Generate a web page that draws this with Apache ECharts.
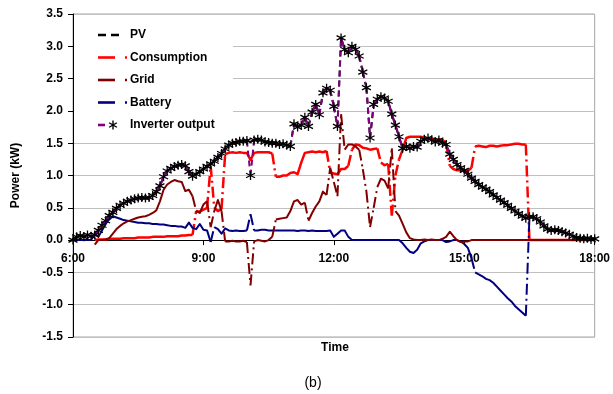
<!DOCTYPE html>
<html>
<head>
<meta charset="utf-8">
<title>Power flows over the day</title>
<script src="https://cdn.jsdelivr.net/npm/echarts@6/dist/echarts.min.js"></script>
<style>
  html, body { margin: 0; padding: 0; background: #fff; }
  #chart { width: 613px; height: 394px; }
</style>
</head>
<body>
<div id="chart"></div>
<script>
// Samples every 5 minutes from 6:00 to 18:00 (kW)
const startMinute = 360;
const stepMinutes = 5;

const pv = [
  0.00,0.05,0.07,0.05,0.08,0.06,0.08,0.15,0.23,0.30,0.38,0.43,
  0.49,0.54,0.57,0.60,0.62,0.64,0.65,0.66,0.65,0.66,0.69,0.75,
  0.84,0.98,1.07,1.11,1.14,1.16,1.17,1.15,1.06,0.99,1.02,1.06,
  1.10,1.14,1.18,1.22,1.28,1.34,1.41,1.47,1.50,1.51,1.53,1.53,
  1.54,1.52,1.55,1.56,1.55,1.52,1.51,1.50,1.50,1.48,1.49,1.47,
  1.45,1.80,1.75,1.78,1.90,1.76,1.98,2.10,1.94,2.28,2.35,2.32,
  2.07,1.76,3.13,2.95,2.90,3.00,2.95,2.85,2.60,2.36,1.58,2.10,
  2.18,2.22,2.20,2.15,1.95,1.78,1.60,1.42,1.45,1.42,1.45,1.44,
  1.53,1.56,1.58,1.55,1.52,1.55,1.50,1.48,1.33,1.25,1.17,1.12,
  1.08,1.02,0.96,0.91,0.86,0.82,0.79,0.75,0.70,0.66,0.62,0.58,
  0.54,0.49,0.45,0.41,0.37,0.34,0.36,0.36,0.33,0.28,0.22,0.17,
  0.15,0.16,0.15,0.13,0.11,0.09,0.06,0.04,0.03,0.02,0.03,0.01,
  0.02
];

const consumption = [
  null,null,null,null,null,null,0.00,0.01,0.01,0.01,0.02,0.02,
  0.02,0.02,0.03,0.03,0.03,0.03,0.04,0.04,0.04,0.04,0.05,0.05,
  0.05,0.05,0.06,0.06,0.06,0.06,0.07,0.07,0.08,0.08,0.45,0.44,
  0.47,0.50,1.15,0.50,0.45,0.48,1.33,1.35,1.36,1.35,1.36,1.35,
  1.35,1.24,1.35,1.36,1.36,1.36,1.36,1.34,0.98,0.98,1.00,1.00,
  1.04,1.05,1.02,1.20,1.35,1.36,1.37,1.36,1.37,1.36,1.38,1.05,
  1.03,1.02,1.10,1.10,1.15,1.40,1.48,1.47,1.43,1.42,1.40,1.41,
  1.42,1.20,1.16,1.18,0.38,1.00,1.25,1.40,1.58,1.60,1.60,1.60,
  1.60,1.58,1.57,1.58,1.55,1.56,1.55,1.50,1.15,1.10,1.08,1.08,
  1.07,1.07,1.12,1.45,1.46,1.45,1.44,1.46,1.46,1.45,1.46,1.47,
  1.47,1.48,1.49,1.49,1.48,1.48,0.00,0.00,0.00,0.00,0.00,0.00,
  0.00,0.00,0.00,0.00,0.00,0.00,0.00,0.00,0.00,0.00,0.00,0.00,
  0.00
];

const grid = [
  null,null,null,null,null,null,-0.07,0.00,0.00,0.01,0.03,0.10,
  0.17,0.22,0.26,0.29,0.31,0.33,0.35,0.36,0.37,0.39,0.42,0.46,
  0.60,0.78,0.86,0.90,0.93,0.91,0.90,0.76,0.78,0.68,0.45,0.42,
  0.55,0.60,0.20,0.45,0.62,0.45,-0.02,-0.02,-0.01,-0.02,-0.02,-0.01,
  -0.03,-0.70,-0.02,0.00,-0.01,-0.02,0.00,0.05,0.32,0.33,0.34,0.35,
  0.45,0.60,0.62,0.55,0.58,0.30,0.42,0.52,0.60,0.75,0.70,1.12,
  0.90,0.68,1.95,1.40,1.48,1.48,1.45,1.40,1.10,0.75,0.20,0.50,
  0.82,0.95,0.92,0.80,1.42,0.45,0.38,0.25,0.12,0.03,0.01,0.00,
  0.00,0.01,0.00,0.01,0.00,0.00,0.02,0.05,0.13,0.06,0.00,-0.03,
  -0.02,-0.02,0.00,0.00,0.00,0.00,0.00,0.00,0.00,0.00,0.00,0.00,
  0.00,0.00,0.00,0.00,0.00,0.00,0.00,0.00,0.00,0.00,0.00,0.00,
  0.00,0.00,0.00,0.00,0.00,0.00,0.00,0.00,0.00,0.00,0.00,0.00,
  0.00
];

const battery = [
  0.00,0.00,0.00,0.00,0.00,0.00,0.10,0.05,0.15,0.25,0.32,0.37,
  0.35,0.33,0.31,0.30,0.29,0.28,0.27,0.27,0.26,0.26,0.25,0.25,
  0.24,0.24,0.23,0.22,0.22,0.21,0.21,0.19,0.27,0.19,0.17,0.25,
  0.16,0.15,-0.03,0.20,0.17,0.10,0.18,0.15,0.14,0.15,0.14,0.14,
  0.15,0.40,0.15,0.15,0.16,0.16,0.15,0.15,0.15,0.15,0.15,0.15,
  0.15,0.15,0.14,0.15,0.15,0.14,0.15,0.14,0.14,0.14,0.14,0.15,
  0.05,0.10,0.15,0.15,0.05,0.00,0.00,0.00,0.00,0.00,0.00,0.00,
  0.00,0.00,0.00,0.00,0.00,0.00,0.00,-0.05,-0.12,-0.18,-0.20,-0.15,
  -0.05,-0.02,0.00,0.00,0.00,0.00,0.00,-0.03,-0.02,0.00,0.00,-0.02,
  -0.06,-0.12,-0.28,-0.50,-0.53,-0.56,-0.60,-0.62,-0.66,-0.72,-0.78,-0.84,
  -0.90,-0.95,-1.02,-1.07,-1.12,-1.17,0.36,0.36,0.33,0.28,0.22,0.17,
  0.15,0.16,0.15,0.13,0.11,0.09,0.06,0.04,0.03,0.02,0.03,0.01,
  0.02
];

const inverterOutput = [
  0.00,0.05,0.07,0.05,0.08,0.06,0.08,0.15,0.23,0.30,0.38,0.43,
  0.49,0.54,0.57,0.60,0.62,0.64,0.65,0.66,0.65,0.66,0.69,0.75,
  0.84,0.98,1.07,1.11,1.14,1.16,1.17,1.15,1.06,0.99,1.02,1.06,
  1.10,1.14,1.18,1.22,1.28,1.34,1.41,1.47,1.50,1.51,1.53,1.53,
  1.54,1.00,1.55,1.56,1.55,1.52,1.51,1.50,1.50,1.48,1.49,1.47,
  1.45,1.80,1.75,1.78,1.90,1.76,1.98,2.10,1.94,2.28,2.35,2.32,
  2.07,1.76,3.13,2.95,2.90,3.00,2.95,2.85,2.60,2.36,1.58,2.10,
  2.18,2.22,2.20,2.15,1.95,1.78,1.60,1.42,1.45,1.42,1.45,1.44,
  1.53,1.56,1.58,1.55,1.52,1.55,1.50,1.48,1.33,1.25,1.17,1.12,
  1.08,1.02,0.96,0.91,0.86,0.82,0.79,0.75,0.70,0.66,0.62,0.58,
  0.54,0.49,0.45,0.41,0.37,0.34,0.36,0.36,0.33,0.28,0.22,0.17,
  0.15,0.16,0.15,0.13,0.11,0.09,0.06,0.04,0.03,0.02,0.03,0.01,
  0.02
];

const timeLabels = ['6:00', '9:00', '12:00', '15:00', '18:00'];
const legendNames = ['PV', 'Consumption', 'Grid', 'Battery', 'Inverter output'];

const FONT = '"Liberation Sans", Arial, Helvetica, sans-serif';
const COLORS = {
  'PV': '#000000',
  'Consumption': '#ff0000',
  'Grid': '#800000',
  'Battery': '#000080',
  'Inverter output': '#800080'
};
const times = pv.map((_, i) => startMinute + i * stepMinutes);

// Short steps are drawn solid; steps with a large change in value get the
// series' dash pattern, the way dense spreadsheet charts render them.
const JUMP = 0.2;
function splitSteps(values) {
  const solid = [];
  const dashed = [];
  values.forEach((v, i) => {
    solid.push([times[i], v]);
    const next = values[i + 1];
    if (i < values.length - 1 && v != null && next != null && Math.abs(next - v) > JUMP) {
      solid.push([times[i] + stepMinutes / 2, null]);
      dashed.push([times[i], v], [times[i + 1], next], [times[i + 1] + 0.01, null]);
    }
  });
  return { solid, dashed };
}

const asterisk = 'path://M5 0L5 10M0.7 2.5L9.3 7.5M0.7 7.5L9.3 2.5';

function lineSeries(name, values, opts) {
  const parts = splitSteps(values);
  const common = {
    name,
    type: 'line',
    silent: true,
    emphasis: { disabled: true },
    connectNulls: false,
    symbol: opts.symbol || 'none',
    symbolSize: opts.symbolSize || 0,
    itemStyle: opts.itemStyle || { color: COLORS[name] },
    z: opts.z
  };
  return [
    Object.assign({}, common, {
      data: parts.dashed,
      showSymbol: false,
      lineStyle: { color: COLORS[name], width: opts.width, type: opts.dash, cap: 'butt' }
    }),
    Object.assign({}, common, {
      data: parts.solid,
      showSymbol: !!opts.symbol,
      showAllSymbol: true,
      lineStyle: { color: COLORS[name], width: opts.width, type: 'solid', cap: 'butt', join: 'round' }
    })
  ];
}

const series = [].concat(
  lineSeries('PV', pv, { width: 2, dash: [6, 4], z: 2 }),
  lineSeries('Consumption', consumption, { width: 2.5, dash: [11, 4, 2, 4], z: 3 }),
  lineSeries('Battery', battery, { width: 2, dash: [11, 4, 2, 4], z: 4 }),
  lineSeries('Grid', grid, { width: 2, dash: [11, 4, 2, 4], z: 5 }),
  lineSeries('Inverter output', inverterOutput, {
    width: 2, dash: [6, 4], z: 6,
    symbol: asterisk, symbolSize: 9,
    itemStyle: { color: 'rgba(0,0,0,0)', borderColor: '#000000', borderWidth: 1.3 }
  })
);

// Layout of the plotting area
const GRID = { left: 73, right: 17, top: 14, bottom: 57 };
const Y_MIN = -1.5, Y_MAX = 3.5;
const chartEl = document.getElementById('chart');
const plotHeight = chartEl.clientHeight - GRID.top - GRID.bottom;
// The time axis sits on the zero line, labels included
const xAxisOffset = -plotHeight * (0 - Y_MIN) / (Y_MAX - Y_MIN);

// Legend drawn as line samples next to bold labels, on a white panel
function legendGraphics() {
  const items = [{
    type: 'rect', z: 1,
    shape: { x: 74, y: 15, width: 159, height: 120 },
    style: { fill: '#ffffff' }
  }];
  const x0 = 98, textX = 130, top = 35, gap = 22.5;
  const strokeW = 2.6;
  const onTop = { z: 20 };
  legendNames.forEach((name, i) => {
    const y = top + i * gap;
    const color = COLORS[name];
    if (name === 'PV') {
      items.push(Object.assign({ type: 'line', shape: { x1: x0, y1: y, x2: x0 + 21, y2: y },
        style: { stroke: color, lineWidth: strokeW, lineDash: [8, 5] } }, onTop));
    } else if (name === 'Inverter output') {
      items.push(Object.assign({ type: 'line', shape: { x1: x0, y1: y, x2: x0 + 7, y2: y },
        style: { stroke: color, lineWidth: strokeW } }, onTop));
      const cx = 113, r = 4.5;
      [[0, -r, 0, r], [-r * 0.87, -r * 0.5, r * 0.87, r * 0.5], [-r * 0.87, r * 0.5, r * 0.87, -r * 0.5]]
        .forEach(s => items.push(Object.assign({ type: 'line',
          shape: { x1: cx + s[0], y1: y + s[1], x2: cx + s[2], y2: y + s[3] },
          style: { stroke: '#000', lineWidth: 1.4 } }, onTop)));
    } else {
      items.push(Object.assign({ type: 'line', shape: { x1: x0, y1: y, x2: x0 + 17, y2: y },
        style: { stroke: color, lineWidth: strokeW } }, onTop));
      items.push(Object.assign({ type: 'line', shape: { x1: x0 + 27, y1: y, x2: x0 + 29, y2: y },
        style: { stroke: color, lineWidth: strokeW } }, onTop));
    }
    items.push(Object.assign({ type: 'text', x: textX, y: y,
      style: { text: name, font: 'bold 12px ' + FONT, fill: '#000', textAlign: 'left', textVerticalAlign: 'middle' } }, onTop));
  });
  return items;
}

const chart = echarts.init(chartEl, null, { renderer: 'canvas' });

chart.setOption({
  animation: false,
  backgroundColor: '#ffffff',
  textStyle: { fontFamily: FONT },
  grid: Object.assign({ show: true, borderColor: '#a6a6a6', borderWidth: 1 }, GRID),
  xAxis: {
    type: 'value',
    min: 360,
    max: 1080,
    interval: 180,
    offset: xAxisOffset,
    axisLine: { onZero: false, lineStyle: { color: '#000', width: 1 } },
    axisTick: { show: true, length: 5, lineStyle: { color: '#000' } },
    axisLabel: {
      margin: 13,
      fontFamily: FONT, fontSize: 12, fontWeight: 'bold', color: '#000',
      formatter: v => timeLabels[Math.round((v - 360) / 180)]
    },
    splitLine: { show: false }
  },
  yAxis: {
    type: 'value',
    min: Y_MIN,
    max: Y_MAX,
    interval: 0.5,
    name: 'Power (kW)',
    nameLocation: 'middle',
    nameGap: 51,
    nameTextStyle: { fontFamily: FONT, fontSize: 12, fontWeight: 'bold', color: '#000' },
    axisLine: { show: true, onZero: false, lineStyle: { color: '#000', width: 1 } },
    axisTick: { show: true, length: 5, lineStyle: { color: '#000' } },
    axisLabel: {
      margin: 10,
      fontFamily: FONT, fontSize: 12, fontWeight: 'bold', color: '#000',
      formatter: v => v.toFixed(1)
    },
    splitLine: { show: true, lineStyle: { color: '#c0c0c0', width: 1 } }
  },
  graphic: legendGraphics().concat([
    {
      type: 'text', x: 335, y: 348,
      style: { text: 'Time', font: 'bold 12px ' + FONT, fill: '#000', textAlign: 'center', textVerticalAlign: 'middle' }
    },
    {
      type: 'text', x: 313, y: 383,
      style: { text: '(b)', font: '14px ' + FONT, fill: '#000', textAlign: 'center', textVerticalAlign: 'middle' }
    }
  ]),
  series
});
</script>
</body>
</html>
